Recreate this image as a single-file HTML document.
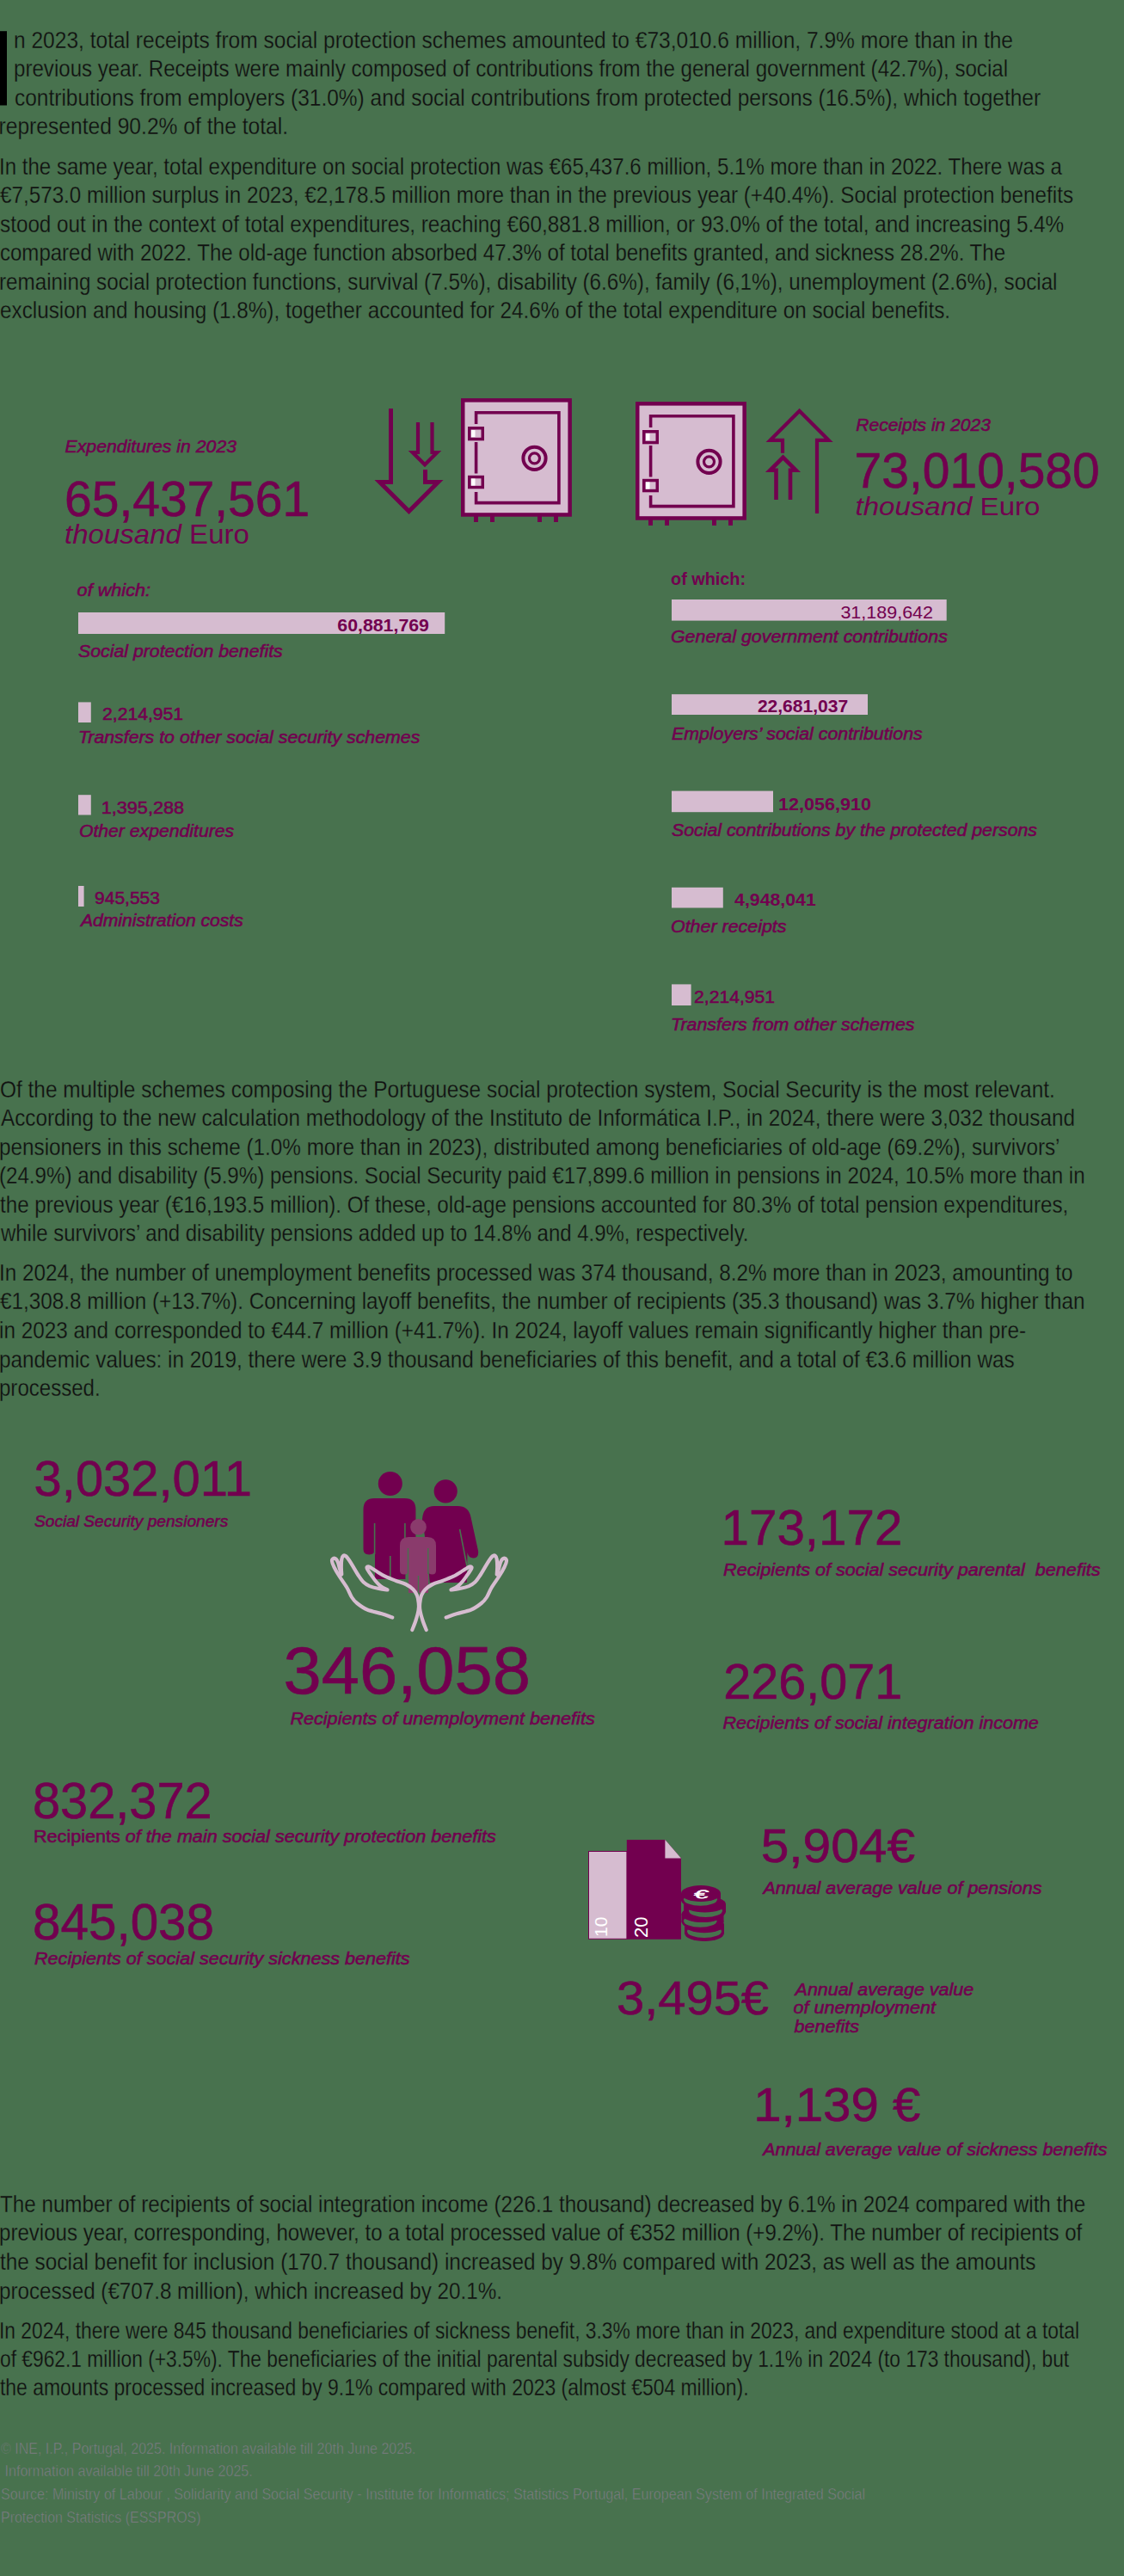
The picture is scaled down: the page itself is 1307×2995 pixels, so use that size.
<!DOCTYPE html>
<html><head><meta charset="utf-8"><title>Social protection</title>
<style>
html,body{margin:0;padding:0;background:#48724e;}
svg{display:block;}
text{font-family:"Liberation Sans",sans-serif;}
.bt{font-size:28px;fill:#111111;stroke:#48724e;stroke-width:0.3px;}
.i{font-style:italic;stroke:#72004f;stroke-width:0.55px;}
.b{font-weight:bold;}
.s{stroke:#72004f;stroke-width:0.55px;}
.n{stroke:#72004f;stroke-width:0.6px;}
.bi{font-weight:bold;font-style:italic;}
.ft{font-size:18.5px;fill:#7f7d86;stroke:#48724e;stroke-width:0.5px;}
</style></head>
<body>
<svg width="1307" height="2995" viewBox="0 0 1307 2995">
<rect width="1307" height="2995" fill="#48724e"/>
<text class="bt" x="16.00" y="55.9" textLength="1162.01" lengthAdjust="spacingAndGlyphs">n 2023, total receipts from social protection schemes amounted to €73,010.6 million, 7.9% more than in the</text>
<text class="bt" x="16.00" y="89.3" textLength="1156.01" lengthAdjust="spacingAndGlyphs">previous year. Receipts were mainly composed of contributions from the general government (42.7%), social</text>
<text class="bt" x="17.00" y="122.8" textLength="1193.10" lengthAdjust="spacingAndGlyphs">contributions from employers (31.0%) and social contributions from protected persons (16.5%), which together</text>
<text class="bt" x="-1.50" y="156.2" textLength="336.55" lengthAdjust="spacingAndGlyphs">represented 90.2% of the total.</text>
<text class="bt" x="-1.00" y="202.7" textLength="1236.00" lengthAdjust="spacingAndGlyphs">In the same year, total expenditure on social protection was €65,437.6 million, 5.1% more than in 2022. There was a</text>
<text class="bt" x="0.00" y="236.2" textLength="1248.00" lengthAdjust="spacingAndGlyphs">€7,573.0 million surplus in 2023, €2,178.5 million more than in the previous year (+40.4%). Social protection benefits</text>
<text class="bt" x="0.00" y="269.7" textLength="1237.20" lengthAdjust="spacingAndGlyphs">stood out in the context of total expenditures, reaching €60,881.8 million, or 93.0% of the total, and increasing 5.4%</text>
<text class="bt" x="0.00" y="303.2" textLength="1169.00" lengthAdjust="spacingAndGlyphs">compared with 2022. The old-age function absorbed 47.3% of total benefits granted, and sickness 28.2%. The</text>
<text class="bt" x="-1.00" y="336.7" textLength="1230.51" lengthAdjust="spacingAndGlyphs">remaining social protection functions, survival (7.5%), disability (6.6%), family (6,1%), unemployment (2.6%), social</text>
<text class="bt" x="0.00" y="370.2" textLength="1105.01" lengthAdjust="spacingAndGlyphs">exclusion and housing (1.8%), together accounted for 24.6% of the total expenditure on social benefits.</text>
<text class="bt" x="0.00" y="1275.6" textLength="1226.81" lengthAdjust="spacingAndGlyphs">Of the multiple schemes composing the Portuguese social protection system, Social Security is the most relevant.</text>
<text class="bt" x="1.00" y="1309.1" textLength="1248.90" lengthAdjust="spacingAndGlyphs">According to the new calculation methodology of the Instituto de Informática I.P., in 2024, there were 3,032 thousand</text>
<text class="bt" x="-1.00" y="1342.6" textLength="1233.51" lengthAdjust="spacingAndGlyphs">pensioners in this scheme (1.0% more than in 2023), distributed among beneficiaries of old-age (69.2%), survivors’</text>
<text class="bt" x="-1.00" y="1376.2" textLength="1262.61" lengthAdjust="spacingAndGlyphs">(24.9%) and disability (5.9%) pensions. Social Security paid €17,899.6 million in pensions in 2024, 10.5% more than in</text>
<text class="bt" x="0.00" y="1409.7" textLength="1242.21" lengthAdjust="spacingAndGlyphs">the previous year (€16,193.5 million). Of these, old-age pensions accounted for 80.3% of total pension expenditures,</text>
<text class="bt" x="1.00" y="1443.2" textLength="869.51" lengthAdjust="spacingAndGlyphs">while survivors’ and disability pensions added up to 14.8% and 4.9%, respectively.</text>
<text class="bt" x="-1.00" y="1488.8" textLength="1248.51" lengthAdjust="spacingAndGlyphs">In 2024, the number of unemployment benefits processed was 374 thousand, 8.2% more than in 2023, amounting to</text>
<text class="bt" x="0.00" y="1522.4" textLength="1261.60" lengthAdjust="spacingAndGlyphs">€1,308.8 million (+13.7%). Concerning layoff benefits, the number of recipients (35.3 thousand) was 3.7% higher than</text>
<text class="bt" x="-1.00" y="1556.0" textLength="1194.01" lengthAdjust="spacingAndGlyphs">in 2023 and corresponded to €44.7 million (+41.7%). In 2024, layoff values remain significantly higher than pre-</text>
<text class="bt" x="-1.00" y="1589.7" textLength="1180.71" lengthAdjust="spacingAndGlyphs">pandemic values: in 2019, there were 3.9 thousand beneficiaries of this benefit, and a total of €3.6 million was</text>
<text class="bt" x="-1.00" y="1623.3" textLength="117.64" lengthAdjust="spacingAndGlyphs">processed.</text>
<text class="bt" x="0.00" y="2571.7" textLength="1262.20" lengthAdjust="spacingAndGlyphs">The number of recipients of social integration income (226.1 thousand) decreased by 6.1% in 2024 compared with the</text>
<text class="bt" x="-1.00" y="2605.3" textLength="1259.20" lengthAdjust="spacingAndGlyphs">previous year, corresponding, however, to a total processed value of €352 million (+9.2%). The number of recipients of</text>
<text class="bt" x="0.00" y="2639.0" textLength="1204.40" lengthAdjust="spacingAndGlyphs">the social benefit for inclusion (170.7 thousand) increased by 9.8% compared with 2023, as well as the amounts</text>
<text class="bt" x="-1.00" y="2672.6" textLength="584.94" lengthAdjust="spacingAndGlyphs">processed (€707.8 million), which increased by 20.1%.</text>
<text class="bt" x="-1.00" y="2718.5" textLength="1256.01" lengthAdjust="spacingAndGlyphs">In 2024, there were 845 thousand beneficiaries of sickness benefit, 3.3% more than in 2023, and expenditure stood at a total</text>
<text class="bt" x="0.00" y="2751.8" textLength="1243.20" lengthAdjust="spacingAndGlyphs">of €962.1 million (+3.5%). The beneficiaries of the initial parental subsidy decreased by 1.1% in 2024 (to 173 thousand), but</text>
<text class="bt" x="0.00" y="2785.2" textLength="870.51" lengthAdjust="spacingAndGlyphs">the amounts processed increased by 9.1% compared with 2023 (almost €504 million).</text>
<rect x="0" y="36.2" width="8" height="86.3" fill="#000"/>
<text class="i" font-size="19.8" fill="#72004f" x="75.60" y="525.6" textLength="199.41" lengthAdjust="spacingAndGlyphs">Expenditures in 2023</text>
<text class="n" font-size="56.5" fill="#72004f" x="75.00" y="599.7" textLength="285.20" lengthAdjust="spacingAndGlyphs">65,437,561</text>
<text font-size="31.5" fill="#72004f" x="75.00" y="631.6" textLength="214.92" lengthAdjust="spacingAndGlyphs"><tspan font-style="italic">thousand</tspan> Euro</text>
<text class="i" font-size="19.8" fill="#72004f" x="995.30" y="500.9" textLength="156.52" lengthAdjust="spacingAndGlyphs">Receipts in 2023</text>
<text class="n" font-size="56.5" fill="#72004f" x="993.60" y="567.0" textLength="285.08" lengthAdjust="spacingAndGlyphs">73,010,580</text>
<text font-size="29" fill="#72004f" x="994.50" y="599.1" textLength="214.94" lengthAdjust="spacingAndGlyphs"><tspan font-style="italic">thousand</tspan> Euro</text>
<text class="i" font-size="20" fill="#72004f" x="89.60" y="693.1" textLength="85.44" lengthAdjust="spacingAndGlyphs">of which:</text>
<rect x="91" y="712" width="426.2" height="25.0" fill="#d6bcd0"/>
<text class="b" font-size="20" fill="#72004f" x="392.30" y="733.7" textLength="106.65" lengthAdjust="spacingAndGlyphs">60,881,769</text>
<text class="i" font-size="20" fill="#72004f" x="91.10" y="764.0" textLength="237.61" lengthAdjust="spacingAndGlyphs">Social protection benefits</text>
<rect x="91" y="816.4" width="14.8" height="23.6" fill="#d6bcd0"/>
<text class="s" font-size="20" fill="#72004f" x="119.10" y="836.8" textLength="93.93" lengthAdjust="spacingAndGlyphs">2,214,951</text>
<text class="i" font-size="20" fill="#72004f" x="90.90" y="863.8" textLength="397.41" lengthAdjust="spacingAndGlyphs">Transfers to other social security schemes</text>
<rect x="91" y="924.2" width="14.8" height="23.3" fill="#d6bcd0"/>
<text class="s" font-size="20" fill="#72004f" x="117.70" y="945.5" textLength="96.37" lengthAdjust="spacingAndGlyphs">1,395,288</text>
<text class="i" font-size="20" fill="#72004f" x="91.90" y="973.3" textLength="180.31" lengthAdjust="spacingAndGlyphs">Other expenditures</text>
<rect x="91" y="1030" width="6.6" height="24.0" fill="#d6bcd0"/>
<text class="s" font-size="20" fill="#72004f" x="110.10" y="1051.0" textLength="75.76" lengthAdjust="spacingAndGlyphs">945,553</text>
<text class="i" font-size="20" fill="#72004f" x="93.90" y="1077.3" textLength="188.92" lengthAdjust="spacingAndGlyphs">Administration costs</text>
<text class="b" font-size="20" fill="#72004f" x="780.00" y="679.5" textLength="87.11" lengthAdjust="spacingAndGlyphs">of which:</text>
<rect x="781" y="697" width="319.7" height="24.6" fill="#d6bcd0"/>
<text font-size="20" fill="#72004f" x="977.40" y="718.8" textLength="107.66" lengthAdjust="spacingAndGlyphs">31,189,642</text>
<text class="i" font-size="20" fill="#72004f" x="780.00" y="746.6" textLength="321.81" lengthAdjust="spacingAndGlyphs">General government contributions</text>
<rect x="781" y="807.2" width="228.0" height="23.8" fill="#d6bcd0"/>
<text class="b" font-size="20" fill="#72004f" x="880.90" y="828.0" textLength="105.26" lengthAdjust="spacingAndGlyphs">22,681,037</text>
<text class="i" font-size="20" fill="#72004f" x="781.00" y="860.4" textLength="291.72" lengthAdjust="spacingAndGlyphs">Employers’ social contributions</text>
<rect x="781" y="919.6" width="118.0" height="24.6" fill="#d6bcd0"/>
<text class="b" font-size="20" fill="#72004f" x="904.90" y="941.8" textLength="108.05" lengthAdjust="spacingAndGlyphs">12,056,910</text>
<text class="i" font-size="20" fill="#72004f" x="781.00" y="972.0" textLength="425.01" lengthAdjust="spacingAndGlyphs">Social contributions by the protected persons</text>
<rect x="781" y="1031.8" width="59.8" height="23.7" fill="#d6bcd0"/>
<text class="b" font-size="20" fill="#72004f" x="854.10" y="1052.7" textLength="94.63" lengthAdjust="spacingAndGlyphs">4,948,041</text>
<text class="i" font-size="20" fill="#72004f" x="780.00" y="1084.0" textLength="134.53" lengthAdjust="spacingAndGlyphs">Other receipts</text>
<rect x="781" y="1144.4" width="22.6" height="24.6" fill="#d6bcd0"/>
<text class="s" font-size="20" fill="#72004f" x="807.10" y="1166.0" textLength="93.97" lengthAdjust="spacingAndGlyphs">2,214,951</text>
<text class="i" font-size="20" fill="#72004f" x="780.00" y="1197.6" textLength="283.52" lengthAdjust="spacingAndGlyphs">Transfers from other schemes</text>
<text class="n" font-size="58" fill="#72004f" x="39.60" y="1739.3" textLength="253.38" lengthAdjust="spacingAndGlyphs">3,032,011</text>
<text class="i" font-size="18.5" fill="#72004f" x="40.00" y="1774.7" textLength="225.22" lengthAdjust="spacingAndGlyphs">Social Security pensioners</text>
<text class="n" font-size="77" fill="#72004f" x="329.50" y="1968.7" textLength="287.44" lengthAdjust="spacingAndGlyphs">346,058</text>
<text class="i" font-size="20" fill="#72004f" x="337.40" y="2005.0" textLength="354.31" lengthAdjust="spacingAndGlyphs">Recipients of unemployment benefits</text>
<text class="n" font-size="56.5" fill="#72004f" x="838.50" y="1796.0" textLength="210.91" lengthAdjust="spacingAndGlyphs">173,172</text>
<text class="i" font-size="20" fill="#72004f" x="841.10" y="1831.6" textLength="438.41" lengthAdjust="spacingAndGlyphs">Recipients of social security parental&#160; benefits</text>
<text class="n" font-size="56.5" fill="#72004f" x="841.20" y="1974.6" textLength="208.11" lengthAdjust="spacingAndGlyphs">226,071</text>
<text class="i" font-size="20" fill="#72004f" x="840.50" y="2010.0" textLength="367.31" lengthAdjust="spacingAndGlyphs">Recipients of social integration income</text>
<text class="n" font-size="58.5" fill="#72004f" x="38.00" y="2113.6" textLength="208.60" lengthAdjust="spacingAndGlyphs">832,372</text>
<text class="s" font-size="20" fill="#72004f" x="39.00" y="2141.8" textLength="537.82" lengthAdjust="spacingAndGlyphs">Recipients<tspan font-style="italic"> of the main social security protection benefits</tspan></text>
<text class="n" font-size="58.5" fill="#72004f" x="38.00" y="2255.0" textLength="211.08" lengthAdjust="spacingAndGlyphs">845,038</text>
<text class="i" font-size="20" fill="#72004f" x="40.00" y="2284.0" textLength="436.61" lengthAdjust="spacingAndGlyphs">Recipients of social security sickness benefits</text>
<text class="n" font-size="55" fill="#72004f" x="884.70" y="2164.5" textLength="179.37" lengthAdjust="spacingAndGlyphs">5,904€</text>
<text class="i" font-size="20" fill="#72004f" x="887.40" y="2201.8" textLength="324.12" lengthAdjust="spacingAndGlyphs">Annual average value of pensions</text>
<text class="n" font-size="55" fill="#72004f" x="717.10" y="2342.2" textLength="176.86" lengthAdjust="spacingAndGlyphs">3,495€</text>
<text class="i" font-size="20" fill="#72004f" x="924.60" y="2319.5" textLength="207.52" lengthAdjust="spacingAndGlyphs">Annual average value</text>
<text class="i" font-size="20" fill="#72004f" x="922.60" y="2341.0" textLength="165.35" lengthAdjust="spacingAndGlyphs">of unemployment</text>
<text class="i" font-size="20" fill="#72004f" x="923.40" y="2362.5" textLength="75.61" lengthAdjust="spacingAndGlyphs">benefits</text>
<text class="n" font-size="55" fill="#72004f" x="876.20" y="2465.8" textLength="194.14" lengthAdjust="spacingAndGlyphs">1,139 €</text>
<text class="i" font-size="20" fill="#72004f" x="887.20" y="2505.7" textLength="400.31" lengthAdjust="spacingAndGlyphs">Annual average value of sickness benefits</text>
<text class="ft" x="1" y="2853" textLength="482.5" lengthAdjust="spacingAndGlyphs" xml:space="preserve">© INE, I.P., Portugal, 2025. Information available till 20th June 2025.</text>
<text class="ft" x="1" y="2878.6" textLength="292.8" lengthAdjust="spacingAndGlyphs" xml:space="preserve"> Information available till 20th June 2025.</text>
<text class="ft" x="1" y="2906.3" textLength="1005.0" lengthAdjust="spacingAndGlyphs" xml:space="preserve">Source: Ministry of Labour , Solidarity and Social Security - Institute for Informatics; Statistics Portugal, European System of Integrated Social</text>
<text class="ft" x="1" y="2932.7" textLength="232.6" lengthAdjust="spacingAndGlyphs" xml:space="preserve">Protection Statistics (ESSPROS)</text>
<!-- arrows -->
<g fill="none" stroke="#72004f" stroke-linejoin="miter" stroke-miterlimit="6">
<path stroke-width="5" d="M454.5,475 V560.5 H441.5 L475.5,594.5 L509.5,560.5 H494.5 V546"/>
<path stroke-width="4.2" d="M486,491 V526 H479.8 L494,540.2 L508.2,526 H502.5 V491"/>
<path stroke-width="4.2" d="M910,526.7 V511.8 H895.6 L929.6,477.8 L963.6,511.8 H950 V597"/>
<path stroke-width="4.6" d="M902.5,581 V546.8 H895.5 L910.5,531.8 L925.5,546.8 H919 V581"/>
</g>
<!-- safe -->
<defs>
<g id="safe">
<rect x="538.25" y="465.35" width="124.4" height="133.1" fill="#d6bcd0" stroke="#72004f" stroke-width="4.5"/>
<path d="M553.6,493 V479.8 H649.9 V584.6 H553.6 V572 M553.6,514 V550.5" fill="none" stroke="#72004f" stroke-width="3.6"/>
<rect x="545.75" y="497.75" width="15.5" height="12.8" fill="#d6bcd0" stroke="#72004f" stroke-width="3.5"/>
<rect x="545.75" y="554.55" width="15.5" height="12.0" fill="#d6bcd0" stroke="#72004f" stroke-width="3.5"/>
<rect x="548" y="500" width="4.5" height="8" fill="#fff"/>
<rect x="548" y="556.5" width="4.5" height="8" fill="#fff"/>
<circle cx="621.5" cy="532.8" r="13.1" fill="none" stroke="#72004f" stroke-width="4"/>
<circle cx="621.5" cy="532.8" r="6" fill="none" stroke="#72004f" stroke-width="3.2"/>
<rect x="551" y="600" width="5" height="7" fill="#72004f"/>
<rect x="570" y="600" width="5" height="7" fill="#72004f"/>
<rect x="625" y="600" width="5" height="7" fill="#72004f"/>
<rect x="644" y="600" width="5" height="7" fill="#72004f"/>
</g>
</defs>
<use href="#safe"/>
<use href="#safe" transform="translate(203,4)"/>
<!-- family -->
<g fill="#72004f">
<circle cx="453.8" cy="1725" r="14"/>
<path d="M422.5,1755 Q422.5,1742 435.5,1742 H470.4 Q483.4,1742 483.4,1755 V1801 Q483.4,1807.5 477.4,1807.5 Q471.4,1807.5 471.4,1801 V1836 H436 V1801 Q436,1807.5 429.2,1807.5 Q422.5,1807.5 422.5,1801 Z"/>
<circle cx="518.2" cy="1733.8" r="13.6"/>
<path d="M491,1766 Q492,1751 505,1751 H532 Q545,1751 547.5,1764 L556,1803 Q557,1811 551,1811.5 Q545,1812 543.5,1805 L542.8,1840 H499.8 L496,1800 Z"/>
</g>
<g stroke="#48724e" stroke-width="1.6" fill="none">
<path d="M435.6,1771 V1807 M470.9,1771 V1807 M453.8,1809 V1840"/>
<path d="M534.6,1778 L543,1821"/>
</g>
<g fill="#8a3b6c">
<circle cx="486.5" cy="1775.3" r="9.3"/>
<path d="M465,1797 Q465,1787 475,1787 H497 Q507,1787 507,1797 V1826 Q507,1830.5 502.5,1830.5 Q498,1830.5 498,1826 V1852 H475 V1826 Q475,1830.5 470,1830.5 Q465,1830.5 465,1826 Z"/>
</g>
<g stroke="#48724e" stroke-width="1.4" fill="none">
<path d="M474.5,1800 V1830 M497.8,1800 V1830 M486.5,1832 V1852"/>
</g>
<g id="hand" fill="none" stroke="#d6bcd0" stroke-width="4.2" stroke-linecap="round" stroke-linejoin="round">
<path d="M456.3,1880.6 C454.2,1879.9 448.9,1877.8 444.0,1876.3 C439.1,1874.8 431.8,1873.5 427.0,1871.5 C422.2,1869.5 418.2,1866.4 415.2,1864.0 C412.2,1861.6 410.9,1860.0 409.0,1857.0 C407.1,1854.0 406.0,1850.2 403.5,1846.0 C401.0,1841.8 396.7,1836.0 394.2,1832.0 C391.7,1828.0 389.9,1824.8 388.5,1822.0 C387.1,1819.2 386.1,1816.7 386.0,1815.0 C385.9,1813.3 387.0,1812.2 387.8,1811.8 C388.6,1811.4 389.8,1811.8 390.7,1812.6 C391.6,1813.4 392.3,1814.6 393.0,1816.5 C393.7,1818.4 394.3,1821.7 395.0,1824.0 C395.7,1826.3 396.9,1829.4 397.3,1830.5 C397.2,1829.1 396.8,1824.9 396.8,1822.0 C396.8,1819.1 396.9,1815.2 397.3,1813.0 C397.7,1810.8 398.3,1809.4 399.2,1808.8 C400.1,1808.2 401.4,1808.6 402.5,1809.5 C403.6,1810.4 404.6,1812.0 406.0,1814.0 C407.4,1816.0 408.8,1818.4 410.6,1821.4 C412.4,1824.4 415.0,1829.0 417.0,1832.0 C419.0,1835.0 420.6,1837.5 422.7,1839.5 C424.8,1841.5 426.8,1842.8 429.8,1844.1 C432.8,1845.3 437.1,1846.3 440.5,1847.0 C443.9,1847.7 448.8,1848.2 450.5,1848.4 C449.2,1847.8 445.2,1846.2 443.0,1844.5 C440.8,1842.8 438.9,1840.8 437.0,1838.5 C435.1,1836.2 433.1,1833.2 431.5,1831.0 C429.9,1828.8 428.3,1826.5 427.5,1825.0 C426.7,1823.5 426.2,1822.9 426.5,1822.3 C426.8,1821.7 428.0,1821.3 429.0,1821.5 C430.0,1821.7 431.2,1822.7 432.5,1823.5 C433.8,1824.3 434.4,1824.8 436.9,1826.3 C439.4,1827.8 443.8,1830.8 447.6,1832.7 C451.5,1834.6 455.9,1836.2 460.0,1837.7 C464.1,1839.2 468.6,1840.3 472.0,1842.0 C475.4,1843.7 478.3,1845.8 480.5,1848.0 C482.7,1850.2 483.9,1852.3 485.0,1855.0 C486.1,1857.7 486.5,1861.2 486.8,1864.0 C487.1,1866.8 487.2,1868.7 486.6,1872.0 C486.1,1875.3 484.7,1880.2 483.5,1884.0 C482.3,1887.8 480.0,1893.2 479.3,1895.0"/>
</g>
<use href="#hand" transform="translate(975,0) scale(-1,1)"/>
<!-- money -->
<rect x="684.5" y="2152.5" width="44.5" height="101.8" fill="#d6bcd0" stroke="#72004f" stroke-width="1"/>
<path d="M728.8,2139 H773.4 L792,2160.6 V2254.7 H728.8 Z" fill="#72004f"/>
<path d="M773.4,2139 V2160.6 H792 Z" fill="#d6bcd0"/>
<text transform="translate(706,2252) rotate(-90)" font-size="21" fill="#fff">10</text>
<text transform="translate(752.5,2253) rotate(-90)" font-size="22" fill="#fff">20</text>
<ellipse cx="819" cy="2247.5" rx="23" ry="9.5" fill="#72004f"/><rect x="796" y="2237.8" width="46" height="9.7" fill="#72004f"/><ellipse cx="819" cy="2245.5" rx="20" ry="7.5" fill="#48724e"/><ellipse cx="819" cy="2237.8" rx="23" ry="9.5" fill="#72004f"/>
<ellipse cx="817" cy="2234.3" rx="24.5" ry="9.5" fill="#72004f"/><rect x="792.5" y="2225.6" width="49.0" height="8.7" fill="#72004f"/><ellipse cx="814.3" cy="2233.3" rx="19.3" ry="7.5" fill="#48724e"/><ellipse cx="817" cy="2225.6" rx="24.5" ry="9.5" fill="#72004f"/>
<ellipse cx="819.5" cy="2222.5" rx="24.5" ry="9.5" fill="#72004f"/><rect x="795.0" y="2214" width="49.0" height="8.5" fill="#72004f"/><ellipse cx="820.5" cy="2221.5" rx="19.5" ry="7.5" fill="#48724e"/><ellipse cx="819.5" cy="2214" rx="24.5" ry="9.5" fill="#72004f"/>
<ellipse cx="815" cy="2209.2" rx="23" ry="9.5" fill="#72004f"/><rect x="792" y="2201.5" width="46" height="7.7" fill="#72004f"/><ellipse cx="814.5" cy="2208.2" rx="19.5" ry="7.5" fill="#48724e"/><ellipse cx="815" cy="2201.5" rx="23" ry="9.5" fill="#72004f"/>
<text x="0" y="0" font-size="17" fill="#fff" stroke="#fff" stroke-width="0.6" text-anchor="middle" transform="translate(814.5,2206.5) skewX(-12) scale(1.75,0.8)">€</text>

</svg>
</body></html>
